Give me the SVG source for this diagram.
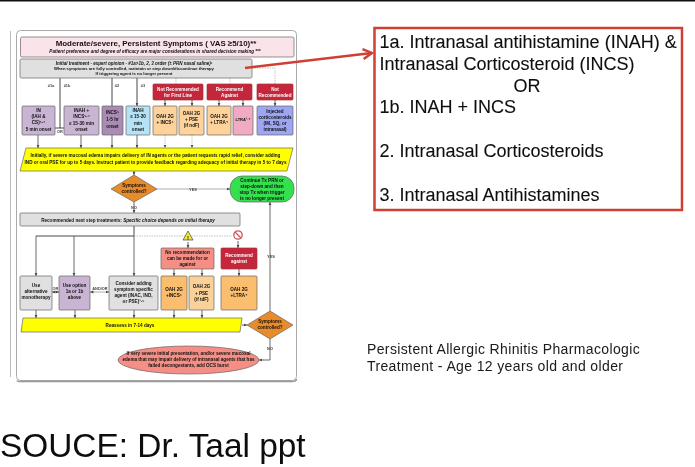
<svg xmlns="http://www.w3.org/2000/svg" width="695" height="467" viewBox="0 0 695 467">
<style>
text{font-family:"Liberation Sans",Arial,sans-serif;fill:#111}
.n{text-anchor:middle;font-weight:bold;font-size:4.6px}
.w{fill:#fff}
.big{font-size:18px;fill:#111;stroke:#111;stroke-width:.1}
.cap{font-size:14px;letter-spacing:.37px;fill:#1a1a1a}
.box{stroke:#666;stroke-width:.7}
.red{fill:#c4263a;stroke:#a33}
.c{fill:none;stroke:#444;stroke-width:.8}
.g{fill:none;stroke:#999;stroke-width:.8}
.s{fill:none;stroke:#333;stroke-width:.9}
.d{fill:none;stroke:#aaa;stroke-width:.7;stroke-dasharray:1.5 1}
.l{text-anchor:middle;font-size:3.9px;font-weight:bold;fill:#444}
</style>
<defs>
<filter id="soft" filterUnits="userSpaceOnUse" x="0" y="0" width="695" height="467"><feGaussianBlur stdDeviation=".3"/></filter>
<filter id="softer" filterUnits="userSpaceOnUse" x="0" y="0" width="695" height="467"><feGaussianBlur stdDeviation=".22"/></filter>
<marker id="a" markerWidth="4" markerHeight="4" refX="3.4" refY="2" orient="auto" markerUnits="userSpaceOnUse"><path d="M0 .5L3.5 2L0 3.5Z" fill="#444"/></marker>
<marker id="b" markerWidth="4" markerHeight="4" refX=".1" refY="2" orient="auto" markerUnits="userSpaceOnUse"><path d="M3.5 .5L0 2L3.5 3.5Z" fill="#444"/></marker>
<marker id="r" markerWidth="13" markerHeight="12" refX="11" refY="6" orient="auto" markerUnits="userSpaceOnUse"><path d="M2 1L11 6L2 11" fill="none" stroke="#cf3f33" stroke-width="2.400"/></marker>
</defs>
<rect width="695" height="467" fill="#fff"/>
<rect x="0" y="0" width="695" height="1.5" fill="#111"/>
<g filter="url(#soft)">
<path d="M10.5 31V377" stroke="#bbb" stroke-width="1" fill="none"/>
<rect id="panel" x="16.5" y="30.5" width="280" height="350" rx="4" fill="#fff" stroke="#aaa" stroke-width="1"/>
<path d="M17 380.5Q17 381.5 21 381.5H292Q296.500 381.500 296.500 379" fill="none" stroke="#999" stroke-width="1.500"/>

<g id="connectors">
<path class="s" d="M60 78V128M55 128H64"/>
<path class="s" d="M112 78V106M137 78V106" marker-end="url(#a)"/>
<path class="d" d="M176 78V84M230 78V84M252 68H275V84"/>
<path class="c" marker-end="url(#a)" d="M165 100V106"/><path class="c" marker-end="url(#a)" d="M192 100V106"/><path class="c" marker-end="url(#a)" d="M219 100V106"/><path class="c" marker-end="url(#a)" d="M243 100V106"/><path class="c" marker-end="url(#a)" d="M275 100V106"/>
<path class="c" marker-end="url(#a)" d="M38 135V148"/><path class="c" marker-end="url(#a)" d="M81 135V148"/><path class="c" marker-end="url(#a)" d="M112 135V148"/><path class="c" marker-end="url(#a)" d="M137 135V148"/>
<path class="d" marker-end="url(#a)" d="M165 135V148"/><path class="d" marker-end="url(#a)" d="M192 135V148"/>
<path class="c" marker-end="url(#a)" d="M134 171V175"/>
<path class="g" marker-end="url(#a)" d="M157 189H230"/>
<path class="c" marker-end="url(#a)" d="M134 202V213"/>
<path class="s" d="M134 226V236M36 236H134"/>
<path class="d" d="M134 236H232"/>
<path class="c" marker-end="url(#a)" d="M36 236V276"/><path class="c" marker-end="url(#a)" d="M74 236V276"/><path class="c" marker-end="url(#a)" d="M134 236V276"/>
<path class="c" marker-end="url(#a)" d="M188 242V248"/><path class="c" marker-end="url(#a)" d="M238 241V248"/>
<path class="c" marker-end="url(#a)" d="M174 269V276"/><path class="c" marker-end="url(#a)" d="M202 269V276"/><path class="c" marker-end="url(#a)" d="M239 269V276"/>
<path class="c" marker-end="url(#a)" d="M36 310V318"/><path class="c" marker-end="url(#a)" d="M75 310V318"/><path class="c" marker-end="url(#a)" d="M134 310V318"/><path class="c" marker-end="url(#a)" d="M174 310V318"/><path class="c" marker-end="url(#a)" d="M202 310V318"/>
<path class="c" marker-start="url(#b)" marker-end="url(#a)" d="M52 292H59"/>
<path class="g" marker-start="url(#b)" marker-end="url(#a)" d="M90 292H109"/>
<path class="c" marker-end="url(#a)" d="M242 325H247"/>
<path class="c" marker-end="url(#a)" d="M270 311V202"/>
<path class="c" marker-end="url(#a)" d="M270 339V360H259"/>
<text class="l" x="51" y="87">#1a</text><text class="l" x="67" y="87">#1b</text><text class="l" x="117" y="87">#2</text><text class="l" x="143" y="87">#3</text>
<text class="l" x="60" y="133">OR</text><text class="l" x="193" y="190.500">YES</text><text class="l" x="134" y="208.500">NO</text><text class="l" x="271" y="257.500">YES</text><text class="l" x="55.500" y="290">OR</text><text class="l" x="100" y="290">AND/OR</text><text class="l" x="270" y="349.500">NO</text>
</g>

<g id="title"><rect class="box" x="20.500" y="37" width="273.500" height="20" rx="1.500" fill="#fbe3ea"/><text x="156" y="46" text-anchor="middle" font-weight="bold" font-size="7.900">Moderate/severe, Persistent Symptoms ( VAS ≥5/10)**</text><text class="n" x="155" y="53" font-style="italic">Patient preference and degree of efficacy are major considerations in shared decision making ***</text></g>
<g id="initial"><rect class="box" x="20" y="59" width="232" height="19" rx="1.500" fill="#e0e0e0"/><text class="n" x="134" y="64.500" font-style="italic" style="font-size:4.500px">Initial treatment - expert opinion - #1a&gt;1b, 2, 3 order  (± PRN nasal saline)¹</text><text class="n" x="134" y="70" style="font-size:4.200px">When symptoms are fully controlled, maintain or step down/discontinue therapy</text><text class="n" x="134" y="75" style="font-size:4.200px">If triggering agent is no longer present</text></g>

<g id="nr1"><rect class="box red" x="153" y="84" width="50" height="16" rx="1"/><text class="n w" x="178" y="91">Not Recommended</text><text class="n w" x="178" y="97">for First Line</text></g>
<g id="ra1"><rect class="box red" x="207" y="84" width="45" height="16" rx="1"/><text class="n w" x="229.500" y="91">Recommend</text><text class="n w" x="229.500" y="97">Against</text></g>
<g id="nr2"><rect class="box red" x="257" y="84" width="36" height="16" rx="1"/><text class="n w" x="275" y="91">Not</text><text class="n w" x="275" y="97">Recommended</text></g>

<g id="in"><rect class="box" x="22" y="106" width="33" height="29" rx="1" fill="#c9b4d4"/><text class="n" x="38.500" y="112">IN</text><text class="n" x="38.500" y="118">(IAH &amp;</text><text class="n" x="38.500" y="124">CS)⁵·⁷</text><text class="n" x="38.500" y="131">5 min onset</text></g>
<g id="inahincs"><rect class="box" x="64" y="106" width="35" height="29" rx="1" fill="#c9b4d4"/><text class="n" x="81.500" y="112">INAH +</text><text class="n" x="81.500" y="118">INCS⁵·⁷</text><text class="n" x="81.500" y="125">≤ 15-30 min</text><text class="n" x="81.500" y="131">onset</text></g>
<g id="incs"><rect class="box" x="102" y="106" width="21" height="29" rx="1" fill="#a98bb4"/><text class="n" x="112.500" y="114">INCS⁵</text><text class="n" x="112.500" y="121">1-5 hr</text><text class="n" x="112.500" y="128">onset</text></g>
<g id="inah"><rect class="box" x="126" y="106" width="24" height="29" rx="1" fill="#b5e3f5"/><text class="n" x="138" y="112">INAH</text><text class="n" x="138" y="118">≤ 15-30</text><text class="n" x="138" y="125">min</text><text class="n" x="138" y="131">onset</text></g>
<g id="oah1"><rect class="box" x="153" y="106" width="24" height="29" rx="1" fill="#fdd39b"/><text class="n" x="165" y="118">OAH 2G</text><text class="n" x="165" y="124">+ INCS⁵</text></g>
<g id="oah2"><rect class="box" x="179" y="106" width="25" height="29" rx="1" fill="#fdd39b"/><text class="n" x="191.500" y="115">OAH 2G</text><text class="n" x="191.500" y="121">+ PSE</text><text class="n" x="191.500" y="127">(if ndF)</text></g>
<g id="oah3"><rect class="box" x="207" y="106" width="24" height="29" rx="1" fill="#fdd39b"/><text class="n" x="219" y="118">OAH 2G</text><text class="n" x="219" y="124">+ LTRA⁴</text></g>
<g id="ltra"><rect class="box" x="233" y="106" width="20" height="29" rx="1" fill="#f0abc2"/><text class="n" x="243" y="121" style="font-size:4px">LTRA¹·⁴</text></g>
<g id="inj"><rect class="box" x="257" y="106" width="36" height="29" rx="1" fill="#9ea6f2"/><text class="n" x="275" y="113">Injected</text><text class="n" x="275" y="119">corticosteroids</text><text class="n" x="275" y="125">(IM, SQ, or</text><text class="n" x="275" y="131">intranasal)</text></g>

<g id="y1"><path class="box" d="M26 148H293L287 171H20Z" fill="#ff0"/><text class="n" x="155.500" y="157">Initially, if severe mucosal edema impairs delivery of IN agents or the patient requests rapid relief, consider adding</text><text class="n" x="155.500" y="164">IND or oral PSE for up to 5 days. Instruct patient to provide feedback regarding adequacy of initial therapy in 5 to 7 days</text></g>
<g id="d1"><path class="box" d="M134 175L157 189L134 202L111 189Z" fill="#e88c2c"/><text class="n" x="134" y="187">Symptoms</text><text class="n" x="134" y="193">controlled?</text></g>
<g id="green"><rect class="box" x="230" y="176" width="64" height="26" rx="12" fill="#34e04f"/><text class="n" x="262" y="181.500">Continue Tx PRN or</text><text class="n" x="262" y="187.500">step-down and then</text><text class="n" x="262" y="193.500">stop Tx when trigger</text><text class="n" x="262" y="199.500">is no longer present</text></g>
<g id="next"><rect class="box" x="20" y="213" width="220" height="13" rx="1" fill="#e0e0e0"/><text class="n" x="128" y="221.500">Recommended next step treatments: <tspan font-style="italic">Specific choice depends on initial therapy</tspan></text></g>

<g id="warn"><path d="M188 231L193 240H183Z" fill="#f4e83c" stroke="#444" stroke-width=".7"/><text x="188" y="239.500" text-anchor="middle" font-size="6" font-weight="bold">!</text></g>
<g id="no"><circle cx="238" cy="235" r="4.200" fill="#fff" stroke="#d8505a" stroke-width="1.300"/><path d="M235 232L241 238" stroke="#d8505a" stroke-width="1.300"/></g>
<g id="nrm"><rect class="box" x="161" y="248" width="53" height="21" rx="1" fill="#f58f85"/><text class="n" x="187.500" y="254">No recommendation</text><text class="n" x="187.500" y="260">can be made for or</text><text class="n" x="187.500" y="266">against</text></g>
<g id="ra2"><rect class="box red" x="221" y="248" width="36" height="21" rx="1"/><text class="n w" x="239" y="257">Recommend</text><text class="n w" x="239" y="263">against</text></g>

<g id="alt"><rect class="box" x="20" y="276" width="32" height="34" rx="1" fill="#e0e0e0"/><text class="n" x="36" y="287">Use</text><text class="n" x="36" y="293">alternative</text><text class="n" x="36" y="299">monotherapy</text></g>
<g id="opt"><rect class="box" x="59" y="276" width="31" height="34" rx="1" fill="#c9b4d4"/><text class="n" x="74.500" y="287">Use option</text><text class="n" x="74.500" y="293">1a or 1b</text><text class="n" x="74.500" y="299">above</text></g>
<g id="add"><rect class="box" x="109" y="276" width="49" height="34" rx="1" fill="#e0e0e0"/><text class="n" x="133.500" y="285">Consider adding</text><text class="n" x="133.500" y="291">symptom specific</text><text class="n" x="133.500" y="297">agent (INAC, IND,</text><text class="n" x="133.500" y="303">or PSE)¹·⁵</text></g>
<g id="oah4"><rect class="box" x="161" y="276" width="26" height="34" rx="1" fill="#fbbd6e"/><text class="n" x="174" y="291">OAH 2G</text><text class="n" x="174" y="297">+INCS⁵</text></g>
<g id="oah5"><rect class="box" x="189" y="276" width="25" height="34" rx="1" fill="#fbd19a"/><text class="n" x="201.500" y="288">OAH 2G</text><text class="n" x="201.500" y="295">+ PSE</text><text class="n" x="201.500" y="301">(if tdF)</text></g>
<g id="oah6"><rect class="box" x="221" y="276" width="36" height="34" rx="1" fill="#fbbd6e"/><text class="n" x="239" y="291">OAH 2G</text><text class="n" x="239" y="297">+LTRA⁴</text></g>

<g id="y2"><path class="box" d="M23 318H242L240 332H21Z" fill="#ff0"/><text class="n" x="130" y="327">Reassess in 7-14 days</text></g>
<g id="d2"><path class="box" d="M270 311L293 325L270 339L247 325Z" fill="#e88c2c"/><text class="n" x="270" y="323">Symptoms</text><text class="n" x="270" y="329">controlled?</text></g>
<g id="ocs"><ellipse class="box" cx="188.500" cy="360" rx="70.500" ry="14" fill="#f58f85"/><text class="n" x="188.500" y="355">If very severe initial presentation, and/or severe mucosal</text><text class="n" x="188.500" y="361">edema that may impair delivery of intranasal agents that has</text><text class="n" x="188.500" y="367">failed decongestants, add OCS burst</text></g>
</g>
<g filter="url(#softer)">
<g id="callout"><rect x="374.500" y="28" width="307.500" height="182" fill="#fff" stroke="#cf3f33" stroke-width="2.500"/>
<text class="big" x="379.500" y="48">1a. Intranasal antihistamine (INAH) &amp;</text>
<text class="big" x="379.500" y="70">Intranasal Corticosteroid (INCS)</text>
<text class="big" x="527" y="92" text-anchor="middle">OR</text>
<text class="big" x="379.500" y="113">1b. INAH + INCS</text>
<text class="big" x="379.500" y="157">2. Intranasal Corticosteroids</text>
<text class="big" x="379.500" y="201">3. Intranasal Antihistamines</text></g>
<g id="callout-arrow"><path d="M245 68L372 53" fill="none" stroke="#cf3f33" stroke-width="2.400" marker-end="url(#r)"/></g>
<g id="caption"><text class="cap" x="367" y="354">Persistent Allergic Rhinitis Pharmacologic</text><text class="cap" x="367" y="371">Treatment - Age 12 years old and older</text></g>
<g id="source"><text x="0" y="457" font-size="33.400">SOUCE: Dr. Taal ppt</text></g>
</g>
</svg>
